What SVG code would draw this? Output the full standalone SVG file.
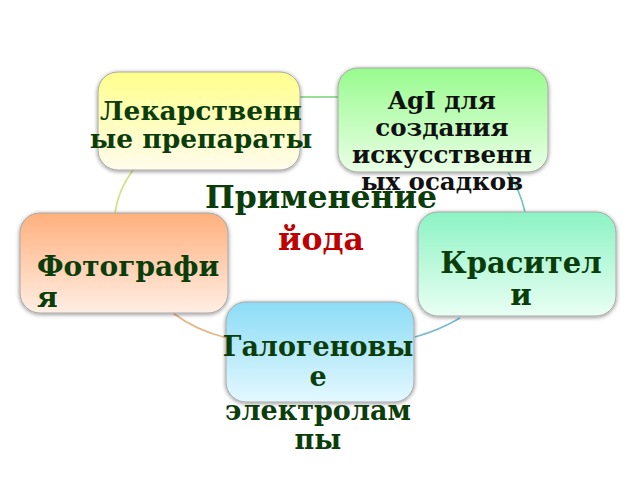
<svg xmlns="http://www.w3.org/2000/svg" width="640" height="480" viewBox="0 0 640 480">
<defs>
<linearGradient id="gY" x1="0" y1="0" x2="0" y2="1"><stop offset="0" stop-color="#ffff8c"/><stop offset="1" stop-color="#fffcec"/></linearGradient>
<linearGradient id="gG" x1="0" y1="0" x2="0" y2="1"><stop offset="0" stop-color="#98fb8e"/><stop offset="1" stop-color="#eaffe6"/></linearGradient>
<linearGradient id="gO" x1="0" y1="0" x2="0" y2="1"><stop offset="0" stop-color="#ffb07c"/><stop offset="1" stop-color="#ffeee4"/></linearGradient>
<linearGradient id="gA" x1="0" y1="0" x2="0" y2="1"><stop offset="0" stop-color="#8cf3c4"/><stop offset="1" stop-color="#eafff4"/></linearGradient>
<linearGradient id="gB" x1="0" y1="0" x2="0" y2="1"><stop offset="0" stop-color="#8cdcf6"/><stop offset="1" stop-color="#e4f8ff"/></linearGradient>
<filter id="sh" x="-10%" y="-10%" width="120%" height="120%"><feGaussianBlur in="SourceAlpha" stdDeviation="2"/><feOffset dx="0" dy="1"/><feComponentTransfer><feFuncA type="linear" slope="0.45"/></feComponentTransfer><feMerge><feMergeNode/><feMergeNode in="SourceGraphic"/></feMerge></filter>
</defs>
<style>
.box{stroke:#a8a8a8;stroke-width:1;filter:url(#sh)}
.t{font-family:"DejaVu Serif",serif;font-weight:bold;font-size:24px;fill:#0b3d0b;text-anchor:middle}
.k{fill:#111}
.c{fill:none;stroke-width:1.6}
</style>
<rect width="640" height="480" fill="#ffffff"/>
<g id="connectors">
<path class="c" stroke="#7ad07a" d="M300,97 L338,97"/>
<path class="c" stroke="#6cc8b4" d="M508,172 Q520,190 525,212"/>
<path class="c" stroke="#7abccc" d="M460,318 Q440,330 415,337"/>
<path class="c" stroke="#e2b888" d="M173,313 Q195,330 227,338"/>
<path class="c" stroke="#cce27a" d="M133,170 Q118,190 115,213"/>
</g>
<g id="n1"><rect class="box" x="98" y="72" width="202" height="98" rx="20" fill="url(#gY)"/>
<text class="t" style="font-size:26.5px"><tspan x="201" y="120">Лекарственн</tspan><tspan x="201" y="148">ые препараты</tspan></text></g>
<g id="n2"><rect class="box" x="338" y="68" width="210" height="104" rx="20" fill="url(#gG)"/>
<text class="t k" style="font-size:24.5px"><tspan x="442" y="109">AgI для</tspan><tspan x="442" y="136">создания</tspan><tspan x="442" y="163">искусственн</tspan><tspan x="442" y="190">ых осадков</tspan></text></g>
<g id="n3"><rect class="box" x="20" y="213" width="208" height="100" rx="20" fill="url(#gO)"/>
<text class="t" style="text-anchor:start;font-size:28px"><tspan x="37" y="276">Фотографи</tspan><tspan x="37" y="307">я</tspan></text></g>
<g id="n4"><rect class="box" x="418" y="212" width="198" height="104" rx="20" fill="url(#gA)"/>
<text class="t" style="font-size:29px"><tspan x="521" y="273">Красител</tspan><tspan x="521" y="305">и</tspan></text></g>
<g id="n5"><rect class="box" x="226" y="302" width="188" height="100" rx="20" fill="url(#gB)"/>
<text class="t" style="font-size:27px"><tspan x="318" y="356">Галогеновы</tspan><tspan x="318" y="386">е</tspan><tspan x="318" y="420">электролам</tspan><tspan x="318" y="449">пы</tspan></text></g>
<g id="center">
<text class="t" style="font-size:31.5px"><tspan x="321" y="208">Применение</tspan><tspan x="321" y="250" fill="#c00000">йода</tspan></text></g>
</svg>
